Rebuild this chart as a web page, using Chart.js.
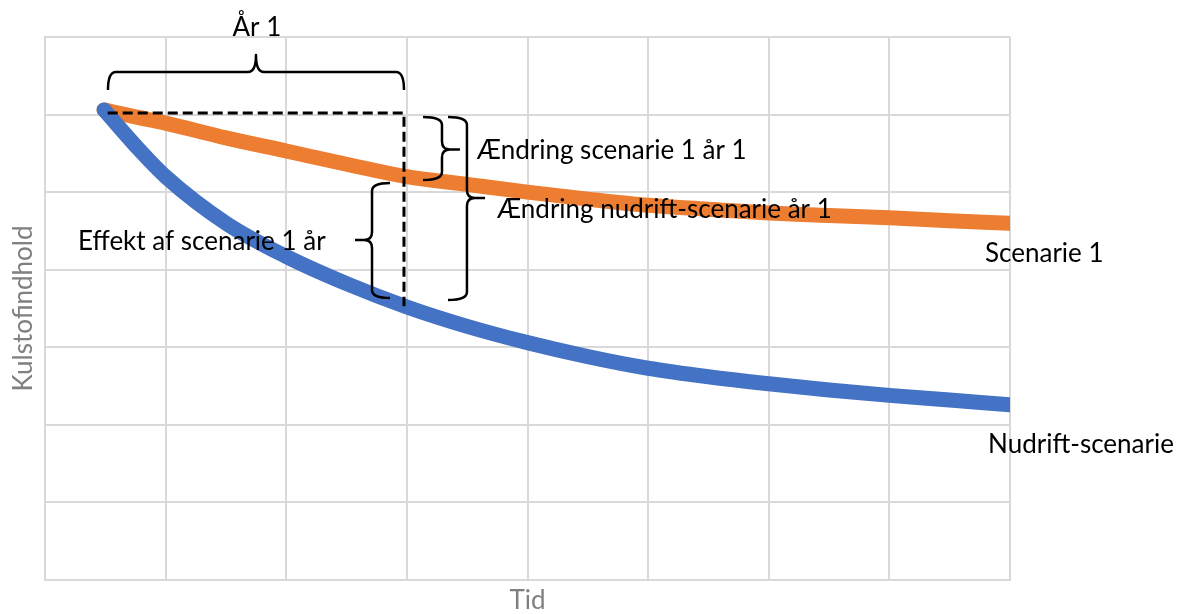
<!DOCTYPE html>
<html>
<head>
<meta charset="utf-8">
<script src="https://cdn.jsdelivr.net/npm/chart.js@4"></script>
<style>
    html, body { margin: 0; padding: 0; background: #fff; }
</style>
</head>
<body>
<canvas id="myChart" width="1180" height="614"></canvas>
<script>
// tid (x) i gitterenheder, kulstofindhold (y)
const tid = [0.49, 0.75, 1, 1.5, 2, 2.5, 3, 3.5, 4, 4.5, 5, 5.5, 6, 6.5, 7, 7.5, 8];
const scenarie1 = [6.06, 5.97, 5.89, 5.70, 5.53, 5.36, 5.20, 5.10, 5.00, 4.91, 4.83, 4.78, 4.73, 4.70, 4.67, 4.63, 4.60];
const nudrift = [6.06, 5.60, 5.20, 4.60, 4.17, 3.82, 3.52, 3.27, 3.06, 2.88, 2.73, 2.62, 2.53, 2.45, 2.38, 2.32, 2.26];
const seriesNames = ['Nudrift-scenarie', 'Scenarie 1'];
const axisTitles = { x: 'Tid', y: 'Kulstofindhold' };

const FONT = 'Lato, "Open Sans", sans-serif';
const GRID = '#d9d9d9';

function toPoints(values) {
    return tid.map(function (t, i) { return { x: t, y: values[i] }; });
}

// klammer og tekster tegnet oven på linjerne
const annotations = {
    id: 'annotations',
    afterDraw: function (chart) {
        const ctx = chart.ctx;
        const xs = chart.scales.x, ys = chart.scales.y;
        const X = function (v) { return xs.getPixelForValue(v); };
        const Y = function (v) { return ys.getPixelForValue(v); };

        ctx.save();
        ctx.strokeStyle = '#000';
        ctx.lineCap = 'butt';

        // stiplet linje: start -> år 1 -> ned til nudrift
        ctx.lineWidth = 3;
        ctx.setLineDash([10, 5]);
        ctx.beginPath();
        ctx.moveTo(X(0.52), Y(6.02));
        ctx.lineTo(X(2.976), Y(6.02));
        ctx.lineTo(X(2.976), Y(3.53));
        ctx.stroke();
        ctx.setLineDash([]);

        ctx.lineWidth = 2.5;
        ctx.lineJoin = 'round';
        // vandret klamme over år 1
        braceH(ctx, X(0.522), X(2.976), Y(6.317), Y(6.549), Y(6.768), 8);
        // lodrette klammer
        braceV(ctx, X(3.134), X(3.291), X(3.440), Y(5.969), Y(5.157), Y(5.55), 8);
        braceV(ctx, X(3.341), X(3.498), X(3.648), Y(5.969), Y(3.610), Y(4.925), 8);
        braceV(ctx, X(2.860), X(2.711), X(2.570), Y(5.118), Y(3.635), Y(4.383), 8);

        ctx.fillStyle = '#000';
        ctx.font = '26px ' + FONT;
        ctx.textBaseline = 'alphabetic';
        ctx.textAlign = 'center';
        ctx.fillText('År 1', X(1.757), Y(7.0) - 1);
        ctx.textAlign = 'left';
        ctx.fillText('Ændring scenarie 1 år 1', X(3.58), Y(5.427));
        ctx.fillText('Ændring nudrift-scenarie år 1', X(3.747), Y(4.667));
        ctx.fillText('Effekt af scenarie 1 år', X(0.274), Y(4.254));
        ctx.fillText(seriesNames[1], X(7.793), Y(4.100));
        ctx.fillText(seriesNames[0], X(7.818), Y(1.637));
        ctx.restore();
    }
};

function braceV(ctx, xEnd, xBar, xTip, yTop, yBot, yTip, r) {
    const d = xTip > xBar ? 1 : -1;
    ctx.beginPath();
    ctx.moveTo(xEnd, yTop);
    ctx.quadraticCurveTo(xBar, yTop, xBar, yTop + r);
    ctx.lineTo(xBar, yTip - r);
    ctx.quadraticCurveTo(xBar, yTip, xBar + d * r, yTip);
    ctx.lineTo(xTip, yTip);
    ctx.moveTo(xBar + d * r, yTip);
    ctx.quadraticCurveTo(xBar, yTip, xBar, yTip + r);
    ctx.lineTo(xBar, yBot - r);
    ctx.quadraticCurveTo(xBar, yBot, xEnd, yBot);
    ctx.stroke();
}

function braceH(ctx, x1, x2, yEnd, yBar, yTip, r) {
    const xm = (x1 + x2) / 2;
    ctx.beginPath();
    ctx.moveTo(x1, yEnd);
    ctx.quadraticCurveTo(x1, yBar, x1 + r, yBar);
    ctx.lineTo(xm - r, yBar);
    ctx.quadraticCurveTo(xm, yBar, xm, yTip);
    ctx.quadraticCurveTo(xm, yBar, xm + r, yBar);
    ctx.lineTo(x2 - r, yBar);
    ctx.quadraticCurveTo(x2, yBar, x2, yEnd);
    ctx.stroke();
}

const ctx = document.getElementById('myChart').getContext('2d');
const myChart = new Chart(ctx, {
    type: 'line',
    data: {
        datasets: [
            {
                label: seriesNames[0],
                data: toPoints(nudrift),
                borderColor: '#4472C4',
                backgroundColor: '#4472C4',
                borderWidth: 15,
                borderCapStyle: 'round',
                borderJoinStyle: 'round',
                pointRadius: 0,
                cubicInterpolationMode: 'monotone'
            },
            {
                label: seriesNames[1],
                data: toPoints(scenarie1),
                borderColor: '#ED7D31',
                backgroundColor: '#ED7D31',
                borderWidth: 15,
                borderCapStyle: 'round',
                borderJoinStyle: 'round',
                pointRadius: 0,
                cubicInterpolationMode: 'monotone'
            }
        ]
    },
    options: {
        responsive: false,
        devicePixelRatio: 1,
        animation: false,
        layout: { padding: { top: 37, right: 170, left: 0, bottom: 0 } },
        plugins: {
            legend: { display: false },
            tooltip: { enabled: false }
        },
        scales: {
            x: {
                type: 'linear',
                min: 0,
                max: 8,
                ticks: { display: false, stepSize: 1 },
                grid: { color: GRID, lineWidth: 2, drawTicks: false },
                border: { color: GRID, width: 2 },
                title: {
                    display: true,
                    text: axisTitles.x,
                    color: '#808080',
                    font: { family: FONT, size: 26, lineHeight: 1 },
                    padding: { top: 0, bottom: 0 }
                },
                afterFit: function (s) { s.height = 34; }
            },
            y: {
                min: 0,
                max: 7,
                ticks: { display: false, stepSize: 1 },
                grid: { color: GRID, lineWidth: 2, drawTicks: false },
                border: { color: GRID, width: 2 },
                title: {
                    display: true,
                    text: axisTitles.y,
                    color: '#808080',
                    font: { family: FONT, size: 26, lineHeight: 1 },
                    padding: { top: 11, bottom: 0 }
                },
                afterFit: function (s) { s.width = 45; }
            }
        }
    },
    plugins: [annotations]
});
</script>
</body>
</html>
